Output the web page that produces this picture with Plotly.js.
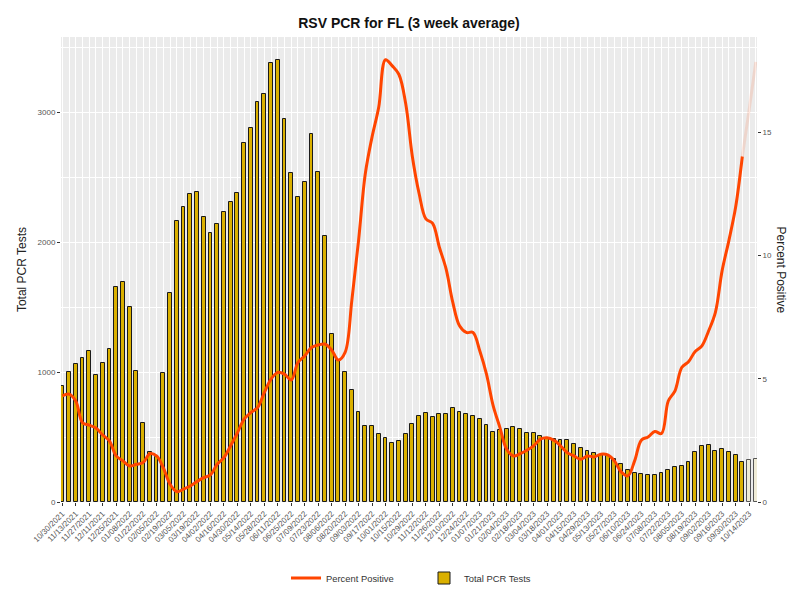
<!DOCTYPE html>
<html>
<head>
<meta charset="utf-8">
<script src="https://cdn.plot.ly/plotly-3.0.1.min.js"></script>
<style>html,body{margin:0;padding:0;background:#fff;}#chart{width:788px;height:597px;}</style>
</head>
<body>
<div id="chart"></div>
<script>
var weeks = [
"2021-10-30","2021-11-06","2021-11-13","2021-11-20","2021-11-27","2021-12-04","2021-12-11","2021-12-18","2021-12-25",
"2022-01-01","2022-01-08","2022-01-15","2022-01-22","2022-01-29","2022-02-05","2022-02-12","2022-02-19","2022-02-26",
"2022-03-05","2022-03-12","2022-03-19","2022-03-26","2022-04-02","2022-04-09","2022-04-16","2022-04-23","2022-04-30",
"2022-05-07","2022-05-14","2022-05-21","2022-05-28","2022-06-04","2022-06-11","2022-06-18","2022-06-25","2022-07-02",
"2022-07-09","2022-07-16","2022-07-23","2022-07-30","2022-08-06","2022-08-13","2022-08-20","2022-08-27","2022-09-03",
"2022-09-10","2022-09-17","2022-09-24","2022-10-01","2022-10-08","2022-10-15","2022-10-22","2022-10-29","2022-11-05",
"2022-11-12","2022-11-19","2022-11-26","2022-12-03","2022-12-10","2022-12-17","2022-12-24","2022-12-31",
"2023-01-07","2023-01-14","2023-01-21","2023-01-28","2023-02-04","2023-02-11","2023-02-18","2023-02-25","2023-03-04",
"2023-03-11","2023-03-18","2023-03-25","2023-04-01","2023-04-08","2023-04-15","2023-04-22","2023-04-29","2023-05-06",
"2023-05-13","2023-05-20","2023-05-27","2023-06-03","2023-06-10","2023-06-17","2023-06-24","2023-07-01","2023-07-08",
"2023-07-15","2023-07-22","2023-07-29","2023-08-05","2023-08-12","2023-08-19","2023-08-26","2023-09-02","2023-09-09",
"2023-09-16","2023-09-23","2023-09-30","2023-10-07","2023-10-14","2023-10-21"
];

var totalTests = [
890,998,1059,1105,1164,979,1069,1180,1654,
1695,1505,1008,610,387,346,992,1610,2167,
2272,2374,2390,2195,2072,2141,2231,2308,2379,
2764,2880,3082,3144,3380,3400,2946,2536,2346,
2464,2833,2538,2046,1290,1090,1003,859,695,
587,587,526,490,451,472,526,597,659,
685,654,674,674,720,692,679,664,
636,595,541,554,564,577,562,533,528,
510,495,485,474,474,449,418,392,379,
362,354,328,290,244,223,218,208,208,
223,244,269,277,310,387,431,438,392,
405,385,359,308,321,328
];

var percentPositive = [
4.31,4.38,4.10,3.22,3.12,3.00,2.72,2.48,1.87,
1.67,1.46,1.53,1.60,1.96,1.87,1.39,0.72,0.42,
0.52,0.65,0.83,0.99,1.10,1.53,1.80,2.28,2.80,
3.36,3.63,3.83,4.44,4.99,5.26,5.19,4.95,5.66,
5.93,6.27,6.37,6.41,6.17,5.76,6.07,8.17,10.61,
13.32,14.81,16.03,17.95,17.70,17.35,16.17,14.00,12.51,
11.49,11.31,10.34,9.46,8.10,7.15,6.88,6.88,
6.14,5.19,3.90,3.02,2.14,1.87,1.96,2.10,2.28,
2.55,2.61,2.51,2.28,2.00,1.87,1.73,1.87,1.83,
1.94,1.91,1.67,1.22,1.06,1.67,2.51,2.64,2.86,
2.78,4.10,4.51,5.46,5.69,6.11,6.34,6.95,7.70,
9.39,10.61,11.96,14.02,15.89,17.86
];

// last two weeks are provisional (drawn faded)
var provisionalCount = 2;

var n = weeks.length;
var cut = n - provisionalCount;
var barFill = weeks.map(function(d,i){ return i < cut ? "#DAB000" : "#EFEBD6"; });
var barLine = weeks.map(function(d,i){ return i < cut ? "#1a1a1a" : "#555555"; });

var DAY = 86400000;

var traces = [
  {
    type: "scatter", mode: "lines", name: "Percent Positive",
    x: weeks.slice(0, cut), y: percentPositive.slice(0, cut),
    yaxis: "y2", line: {color: "#FF4500", width: 3, shape: "spline", smoothing: 1},
    legendrank: 1, hoverinfo: "x+y"
  },
  {
    type: "scatter", mode: "lines", name: "Percent Positive (provisional)",
    x: weeks.slice(cut - 1), y: percentPositive.slice(cut - 1),
    yaxis: "y2", line: {color: "rgba(255,69,0,0.13)", width: 3, shape: "spline", smoothing: 1},
    showlegend: false, hoverinfo: "x+y"
  },
  {
    type: "bar", name: "Total PCR Tests",
    x: weeks, y: totalTests, width: 4.0 * DAY,
    marker: {color: barFill, line: {color: barLine, width: 1}},
    legendrank: 2, hoverinfo: "x+y"
  }
];

var tickFont = {family: "Liberation Sans, Arial, sans-serif", size: 8, color: "#555555"};

var layout = {
  width: 788, height: 597,
  margin: {l: 61, r: 31, t: 37, b: 95, pad: 0},
  paper_bgcolor: "#ffffff",
  plot_bgcolor: "#EBEBEB",
  font: {family: "Liberation Sans, Arial, sans-serif", color: "#222222"},
  title: {
    text: "<b>RSV PCR for FL (3 week average)</b>",
    font: {family: "Liberation Sans, Arial, sans-serif", size: 14, color: "#111111"},
    x: 0.5, xref: "paper", xanchor: "center",
    y: 1 - 23/597, yref: "container", yanchor: "middle"
  },
  bargap: 0,
  showlegend: true,
  legend: {
    orientation: "h", xref: "container", yref: "container",
    x: 286/788, xanchor: "left", y: (597-578)/597, yanchor: "middle",
    entrywidth: 93, entrywidthmode: "pixels",
    font: {family: "Liberation Sans, Arial, sans-serif", size: 9.4, color: "#333333"},
    bgcolor: "rgba(0,0,0,0)", itemwidth: 30, tracegroupgap: 0
  },
  xaxis: {
    type: "date", automargin: false,
    range: ["2021-10-28 15:30", "2023-10-22 06:00"],
    tick0: "2021-10-30", dtick: 14 * DAY,
    tickformat: "%m/%d/%Y", tickangle: -45,
    tickfont: tickFont,
    ticks: "outside", ticklen: 3, tickcolor: "#333333", tickwidth: 1,
    showgrid: true, gridcolor: "#ffffff", gridwidth: 1,
    minor: {dtick: 7 * DAY, tick0: "2021-10-30", showgrid: true, gridcolor: "#ffffff", gridwidth: 0.6},
    showline: false, zeroline: false, fixedrange: true
  },
  yaxis: {
    automargin: false,
    range: [0, 3580],
    tickvals: [0, 1000, 2000, 3000],
    ticktext: ["0", "1000", "2000", "3000"],
    tickfont: tickFont,
    ticks: "outside", ticklen: 3, tickcolor: "#333333",
    showgrid: true, gridcolor: "#ffffff", gridwidth: 1.2,
    minor: {dtick: 500, tick0: 0, showgrid: true, gridcolor: "#ffffff", gridwidth: 0.6},
    zeroline: false, showline: false,
    title: {text: "Total PCR Tests", font: {size: 12, color: "#222222"}, standoff: 8},
    fixedrange: true
  },
  yaxis2: {
    automargin: false,
    overlaying: "y", side: "right",
    range: [0, 3580 / 189.7],
    tickvals: [0, 5, 10, 15],
    tickfont: tickFont,
    ticks: "outside", ticklen: 3, tickcolor: "#333333",
    showgrid: false, zeroline: false, showline: false,
    fixedrange: true
  },
  annotations: [
    {
      text: "Percent Positive", textangle: 90,
      xref: "paper", yref: "paper", x: (781 - 61) / 696, y: 0.5,
      xanchor: "center", yanchor: "middle", showarrow: false,
      font: {family: "Liberation Sans, Arial, sans-serif", size: 12, color: "#222222"}
    }
  ]
};

Plotly.newPlot("chart", traces, layout, {displayModeBar: false, staticPlot: false});
</script>
</body>
</html>
